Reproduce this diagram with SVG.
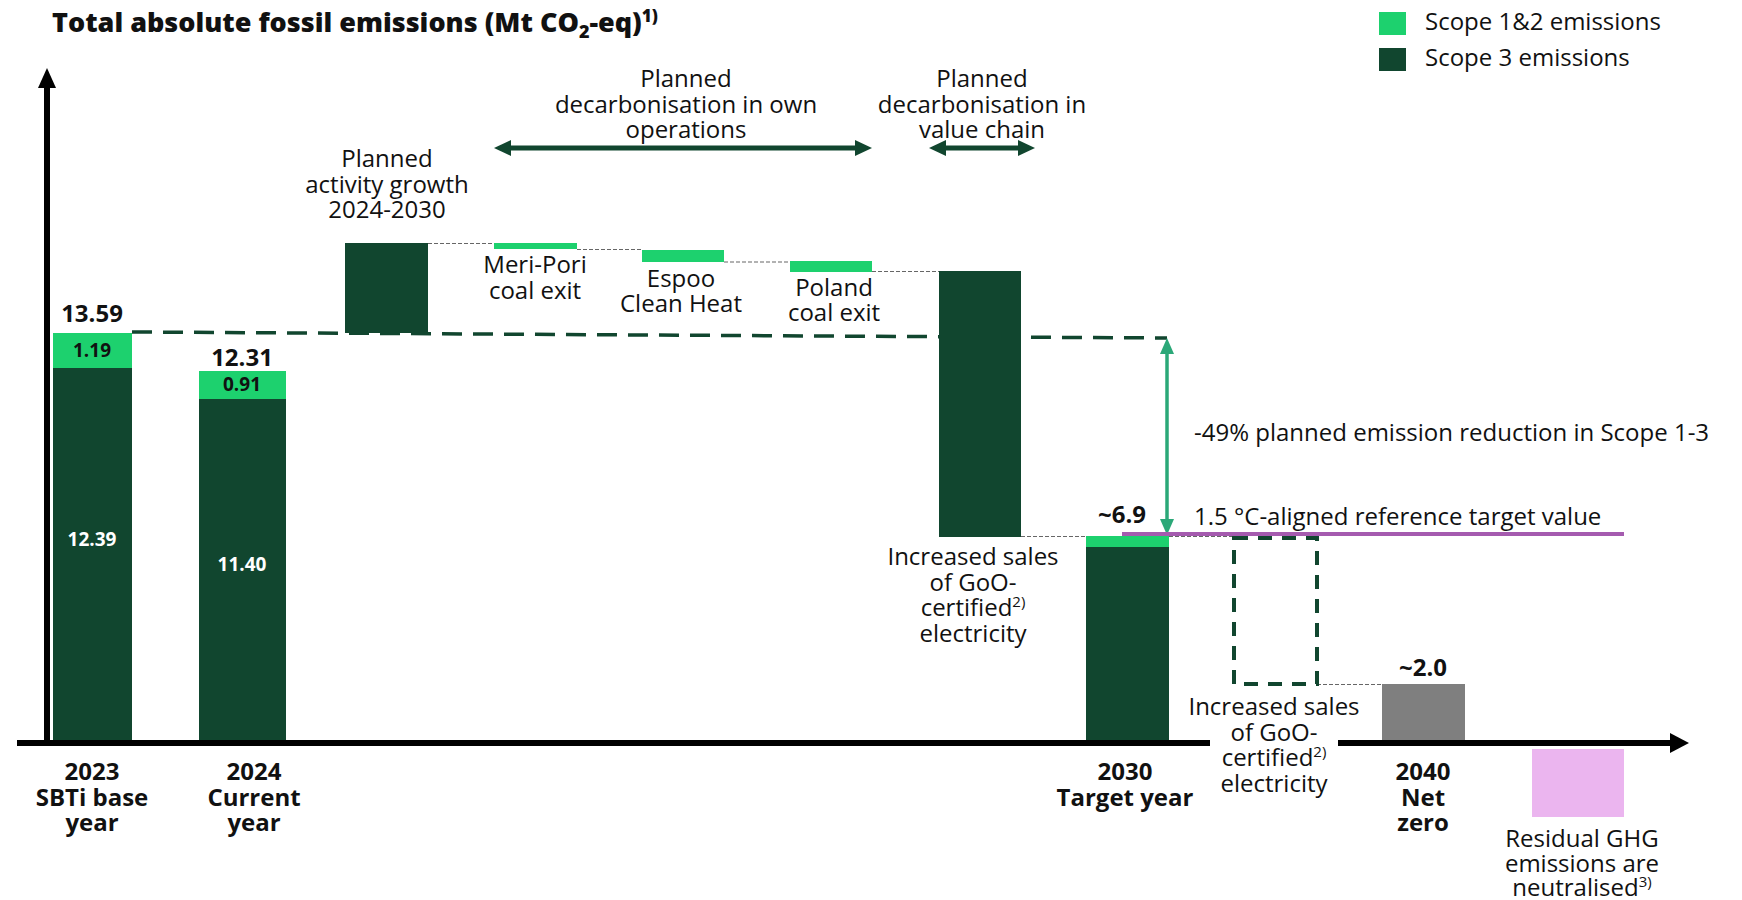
<svg xmlns="http://www.w3.org/2000/svg" width="1742" height="900" viewBox="0 0 1742 900">
<defs>
<style>
.t{font-family:"Open Sans","Liberation Sans",sans-serif;font-size:24px;fill:#111;}
.b{font-weight:700;}
.c{text-anchor:middle;}
.n{font-size:19px;}
.w{fill:#fff;}
.s12{fill:#1DD16E;}
.s3{fill:#11462F;}
.thin{stroke:#666;stroke-width:1.2;stroke-dasharray:4 2;fill:none;}
.ax{stroke:#000;stroke-width:6;fill:none;}
.sup{font-size:15px;}
</style>
<marker id="ahDark" markerUnits="userSpaceOnUse" markerWidth="18" markerHeight="16" refX="2" refY="8" orient="auto-start-reverse" viewBox="0 0 18 16"><path d="M0,0 L17,8 L0,16 z" fill="#11462F"/></marker>
<marker id="ahGreen" markerUnits="userSpaceOnUse" markerWidth="16" markerHeight="14" refX="2" refY="7" orient="auto-start-reverse" viewBox="0 0 16 14"><path d="M0,0 L16,7 L0,14 z" fill="#2BA878"/></marker>
</defs>

<g id="title">
<text class="t" x="52" y="32" style="font-size:27px;font-weight:800">Total absolute fossil emissions (Mt CO<tspan dy="6" style="font-size:18px">2</tspan><tspan dy="-6">-eq)</tspan><tspan dy="-10" style="font-size:17px">1)</tspan></text>
</g>

<g id="legend">
<rect class="s12" x="1379" y="12" width="27" height="23"/>
<text class="t" x="1425" y="30">Scope 1&amp;2 emissions</text>
<rect class="s3" x="1379" y="48" width="27" height="23"/>
<text class="t" x="1425" y="66">Scope 3 emissions</text>
</g>

<g id="axes">
<line class="ax" x1="47" y1="746" x2="47" y2="86"/>
<polygon points="47,68 38,88 56,88" fill="#000"/>
<line class="ax" x1="17" y1="743" x2="1210" y2="743"/>
<line class="ax" x1="1338" y1="743" x2="1672" y2="743"/>
<polygon points="1689,743 1670,733 1670,753" fill="#000"/>
</g>

<g id="connectors">
<line x1="132" y1="332" x2="1167" y2="338" stroke="#11462F" stroke-width="3.5" stroke-dasharray="20 11"/>
<line class="thin" x1="428" y1="243.5" x2="494" y2="243.5"/>
<line class="thin" x1="577" y1="249.5" x2="642" y2="249.5"/>
<line class="thin" x1="724" y1="262" x2="790" y2="262"/>
<line class="thin" x1="872" y1="271.5" x2="939" y2="271.5"/>
<line class="thin" x1="1021" y1="536.5" x2="1085" y2="536.5"/>
<line class="thin" x1="1169" y1="536.5" x2="1233" y2="536.5"/>
<line class="thin" x1="1317" y1="684.5" x2="1382" y2="684.5"/>
<line x1="509" y1="148" x2="857" y2="148" stroke="#11462F" stroke-width="5" marker-start="url(#ahDark)" marker-end="url(#ahDark)"/>
<line x1="944" y1="148" x2="1020" y2="148" stroke="#11462F" stroke-width="5" marker-start="url(#ahDark)" marker-end="url(#ahDark)"/>
<line x1="1167" y1="352" x2="1167" y2="521" stroke="#2BA878" stroke-width="3.5" marker-start="url(#ahGreen)" marker-end="url(#ahGreen)"/>
<line x1="1122" y1="534" x2="1624" y2="534" stroke="#A55BAF" stroke-width="4"/>
</g>

<g id="bar2023">
<rect class="s3" x="53" y="368" width="79" height="372"/>
<rect class="s12" x="53" y="333" width="79" height="35"/>
<text class="t b c" x="92" y="322">13.59</text>
<text class="t b c n" x="92" y="357">1.19</text>
<text class="t b c n w" x="92" y="546">12.39</text>
<text class="t b c" x="92" y="780">2023<tspan x="92" dy="26">SBTi base</tspan><tspan x="92" dy="25">year</tspan></text>
</g>

<g id="bar2024">
<rect class="s3" x="199" y="399" width="87" height="341"/>
<rect class="s12" x="199" y="371" width="87" height="28"/>
<text class="t b c" x="242" y="366">12.31</text>
<text class="t b c n" x="242" y="391">0.91</text>
<text class="t b c n w" x="242" y="571">11.40</text>
<text class="t b c" x="254" y="780">2024<tspan x="254" dy="26">Current</tspan><tspan x="254" dy="25">year</tspan></text>
</g>

<g id="growth">
<rect class="s3" x="345" y="243" width="83" height="90"/>
<text class="t c" x="387" y="167">Planned<tspan x="387" dy="25.5">activity growth</tspan><tspan x="387" dy="25.5">2024-2030</tspan></text>
</g>

<g id="own-ops">
<text class="t c" x="686" y="87">Planned<tspan x="686" dy="25.5">decarbonisation in own</tspan><tspan x="686" dy="25.5">operations</tspan></text>
</g>

<g id="meripori">
<rect class="s12" x="494" y="243" width="83" height="6"/>
<text class="t c" x="535" y="273">Meri-Pori<tspan x="535" dy="25.5">coal exit</tspan></text>
</g>

<g id="espoo">
<rect class="s12" x="642" y="250" width="82" height="12"/>
<text class="t c" x="681" y="287">Espoo<tspan x="681" dy="25">Clean Heat</tspan></text>
</g>

<g id="poland">
<rect class="s12" x="790" y="261" width="82" height="11"/>
<text class="t c" x="834" y="296">Poland<tspan x="834" dy="25">coal exit</tspan></text>
</g>

<g id="value-chain">
<text class="t c" x="982" y="87">Planned<tspan x="982" dy="25.5">decarbonisation in</tspan><tspan x="982" dy="25.5">value chain</tspan></text>
<rect class="s3" x="939" y="271" width="82" height="266"/>
<text class="t c" x="973" y="565">Increased sales<tspan x="973" dy="25.5">of GoO-</tspan><tspan x="973" dy="25.5">certified</tspan><tspan class="sup" dy="-9">2)</tspan><tspan x="973" dy="34.5">electricity</tspan></text>
</g>

<g id="bar2030">
<rect class="s3" x="1086" y="547" width="83" height="193"/>
<rect class="s12" x="1086" y="536" width="83" height="11"/>
<text class="t b c" x="1122" y="523">~6.9</text>
<text class="t b c" x="1125" y="780">2030<tspan x="1125" dy="26">Target year</tspan></text>
</g>

<g id="reduction">
<text class="t" x="1194" y="441">-49% planned emission reduction in Scope 1-3</text>
</g>

<g id="target">
<text class="t" x="1194" y="525">1.5 °C-aligned reference target value</text>
</g>

<g id="goo2040">
<rect x="1234" y="538" width="83" height="146" fill="none" stroke="#11462F" stroke-width="4" stroke-dasharray="14 10"/>
<text class="t c" x="1274" y="715">Increased sales<tspan x="1274" dy="25.5">of GoO-</tspan><tspan x="1274" dy="25.5">certified</tspan><tspan class="sup" dy="-9">2)</tspan><tspan x="1274" dy="34.5">electricity</tspan></text>
</g>

<g id="bar2040">
<rect x="1382" y="684" width="83" height="56" fill="#7F7F7F"/>
<text class="t b c" x="1423" y="676">~2.0</text>
<text class="t b c" x="1423" y="780">2040<tspan x="1423" dy="26">Net</tspan><tspan x="1423" dy="25">zero</tspan></text>
</g>

<g id="residual">
<rect x="1532" y="749" width="92" height="68" fill="#EBB5EF"/>
<text class="t c" x="1582" y="847">Residual GHG<tspan x="1582" dy="25">emissions are</tspan><tspan x="1582" dy="24">neutralised</tspan><tspan class="sup" dy="-9">3)</tspan></text>
</g>
</svg>
